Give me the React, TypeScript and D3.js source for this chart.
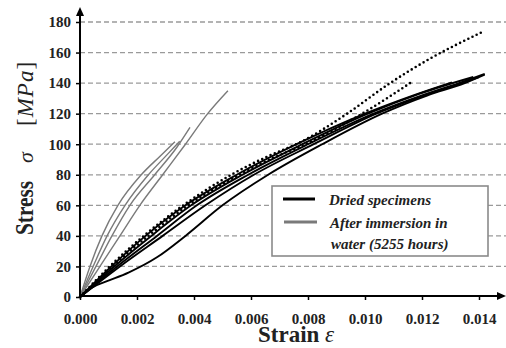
import React, { useEffect, useRef } from "react";
import { select, scaleLinear, line, curveMonotoneX, axisLeft, axisBottom } from "d3";

const width = 506;
const height = 348;
const font = "'Liberation Serif', 'Times New Roman', Times, serif";

const strainTicks = [0, 0.002, 0.004, 0.006, 0.008, 0.01, 0.012, 0.014];
const stressTicks = [0, 20, 40, 60, 80, 100, 120, 140, 160, 180];

// dried specimens, solid
const dried1 = [[0, 0], [0.0011, 20], [0.0023, 40], [0.0037, 60], [0.0055, 80], [0.0076, 100], [0.01, 120], [0.0117, 132], [0.01305, 140.5]];
const dried2 = [[0, 0], [0.0012, 20], [0.0025, 40], [0.0039, 60], [0.0057, 80], [0.0078, 100], [0.0101, 120], [0.0119, 133], [0.0138, 144]];
const dried3 = [[0, 0], [0.0013, 20], [0.0027, 40], [0.0041, 60], [0.0059, 80], [0.008, 100], [0.0103, 120], [0.012, 132], [0.0133, 140], [0.0142, 146]];
const dried4 = [[0, 0], [0.0014, 20], [0.0029, 40], [0.0044, 60], [0.0061, 80], [0.0082, 100], [0.0104, 120], [0.0121, 132], [0.0134, 140], [0.014, 144]];
const dried5 = [[0, 0], [0.0004, 6], [0.0009, 10], [0.0017, 16], [0.0027, 26], [0.0037, 40], [0.005, 60], [0.0066, 80], [0.0085, 100], [0.0106, 120], [0.0122, 132], [0.0135, 140], [0.0142, 145.5]];
// dried specimens, dotted
const driedDot1 = [[0, 0], [0.0011, 21], [0.0023, 41], [0.0037, 61], [0.0054, 81], [0.0067, 93], [0.0077, 101], [0.00937, 120], [0.01088, 140], [0.01228, 156], [0.01407, 173]];
const driedDot2 = [[0, 0], [0.0012, 21], [0.0024, 40], [0.0038, 60], [0.0056, 80], [0.0069, 92], [0.0079, 100], [0.0099, 120], [0.01158, 140]];
// after immersion in water
const wet1 = [[0, 0], [0.00035, 20], [0.00077, 40], [0.00133, 60], [0.00215, 80], [0.0028, 92], [0.00333, 101.6]];
const wet2 = [[0, 0], [0.00046, 20], [0.00095, 40], [0.00158, 60], [0.0024, 80], [0.0031, 94], [0.0035, 102]];
const wet3 = [[0, 0], [0.00056, 20], [0.00112, 40], [0.00175, 60], [0.00262, 80], [0.0034, 98], [0.00386, 111]];
const wet4 = [[0, 0], [0.0007, 20], [0.0014, 40], [0.0021, 60], [0.0029, 80], [0.0037, 100], [0.00448, 120], [0.00519, 135]];

const solidCurves = [dried1, dried2, dried3, dried4, dried5];
const dottedCurves = [driedDot1, driedDot2];
const wetCurves = [wet1, wet2, wet3, wet4];

const legendItems = ["Dried specimens", "After immersion in", "water (5255 hours)"];

const x = scaleLinear().domain([0, 0.015]).range([80, 507.5]);
const y = scaleLinear().domain([0, 180]).range([297, 22]);

const App = () => {
  const plotRef = useRef(null);

  useEffect(() => {
    const g = select(plotRef.current);
    g.selectAll("*").remove();

    // dashed grid
    g.append("g")
      .selectAll("line")
      .data(stressTicks.slice(1))
      .join("line")
      .attr("x1", x(0))
      .attr("x2", width)
      .attr("y1", (d) => y(d))
      .attr("y2", (d) => y(d))
      .attr("stroke", "#9a9a9a")
      .attr("stroke-width", 1.3)
      .attr("stroke-dasharray", "5 3");

    const yAxis = axisLeft(y).tickValues(stressTicks).tickSize(4).tickFormat((d) => String(d));
    g.append("g")
      .attr("transform", `translate(${x(0)},0)`)
      .call(yAxis)
      .call((s) => s.select(".domain").remove())
      .call((s) => s.selectAll("line").attr("stroke", "#000").attr("stroke-width", 1.5))
      .call((s) =>
        s.selectAll("text")
          .attr("x", -9)
          .style("font-family", font)
          .style("font-weight", "bold")
          .style("font-size", "15px")
          .attr("fill", "#222"),
      );

    const xAxis = axisBottom(x).tickValues(strainTicks).tickSize(4).tickFormat((d) => Number(d).toFixed(3));
    g.append("g")
      .attr("transform", `translate(0,${y(0) - 1})`)
      .call(xAxis)
      .call((s) => s.select(".domain").remove())
      .call((s) => s.selectAll("line").attr("stroke", "#000").attr("stroke-width", 1.5))
      .call((s) =>
        s.selectAll("text")
          .attr("y", 17)
          .style("font-family", font)
          .style("font-weight", "bold")
          .style("font-size", "15px")
          .attr("fill", "#222"),
      );

    const curve = line()
      .x((d) => x(d[0]))
      .y((d) => y(d[1]))
      .curve(curveMonotoneX);

    g.append("g")
      .selectAll("path")
      .data(wetCurves)
      .join("path")
      .attr("d", (d) => curve(d))
      .attr("fill", "none")
      .attr("stroke", "#7a7a7a")
      .attr("stroke-width", 1.4);

    g.append("g")
      .selectAll("path")
      .data(solidCurves)
      .join("path")
      .attr("d", (d) => curve(d))
      .attr("fill", "none")
      .attr("stroke", "#000")
      .attr("stroke-width", 1.9);

    g.append("g")
      .selectAll("path")
      .data(dottedCurves)
      .join("path")
      .attr("d", (d) => curve(d))
      .attr("fill", "none")
      .attr("stroke", "#000")
      .attr("stroke-width", 2.6)
      .attr("stroke-linecap", "round")
      .attr("stroke-dasharray", "0 4.6");

    // axes with arrows
    const x0 = x(0);
    const y0 = y(0) - 1;
    g.append("line")
      .attr("x1", x0).attr("x2", x0)
      .attr("y1", y0 + 1).attr("y2", 12)
      .attr("stroke", "#000").attr("stroke-width", 2);
    g.append("path")
      .attr("d", `M${x0 - 4},16 L${x0},7 L${x0 + 4},16 Z`)
      .attr("fill", "#000");
    g.append("line")
      .attr("x1", x0 - 1).attr("x2", 500)
      .attr("y1", y0).attr("y2", y0)
      .attr("stroke", "#000").attr("stroke-width", 2);
    g.append("path")
      .attr("d", `M497,${y0 - 4} L506,${y0} L497,${y0 + 4} Z`)
      .attr("fill", "#000");

    // legend
    const legend = g.append("g");
    legend.append("rect")
      .attr("x", 272).attr("y", 186)
      .attr("width", 216).attr("height", 70)
      .attr("fill", "#fff")
      .attr("stroke", "#8a8a8a")
      .attr("stroke-width", 1.6);
    legend.append("line")
      .attr("x1", 283).attr("x2", 315)
      .attr("y1", 199).attr("y2", 199)
      .attr("stroke", "#000").attr("stroke-width", 3);
    legend.append("line")
      .attr("x1", 284).attr("x2", 317)
      .attr("y1", 222).attr("y2", 222)
      .attr("stroke", "#7a7a7a").attr("stroke-width", 3);
    legend.selectAll("text")
      .data(legendItems)
      .join("text")
      .attr("x", (d, i) => 329 + i)
      .attr("y", (d, i) => [205, 228, 249][i])
      .text((d) => d)
      .style("font-family", font)
      .style("font-weight", "bold")
      .style("font-style", "italic")
      .style("font-size", "15px")
      .attr("fill", "#222");
  }, []);

  return (
    <svg
      width={width}
      height={height}
      style={{ position: "absolute", left: 0, top: 0, background: "#fff" }}
    >
      <g ref={plotRef} />
      <g style={{ fontFamily: font }} fill="#222">
        <g transform="translate(33,235) rotate(-90) scale(0.82,1)">
          <text fontSize={26} fontWeight="bold">Stress</text>
        </g>
        <g transform="translate(33,163) rotate(-90)">
          <text fontSize={22} fontStyle="italic">σ</text>
        </g>
        <g transform="translate(33,126) rotate(-90)">
          <text fontSize={23} letterSpacing={1}>
            [<tspan fontStyle="italic">MPa</tspan>]
          </text>
        </g>
        <text x={258} y={342} fontSize={23} fontWeight="bold">
          Strain <tspan fontStyle="italic" fontWeight="normal">ε</tspan>
        </text>
      </g>
    </svg>
  );
};

export default App;
